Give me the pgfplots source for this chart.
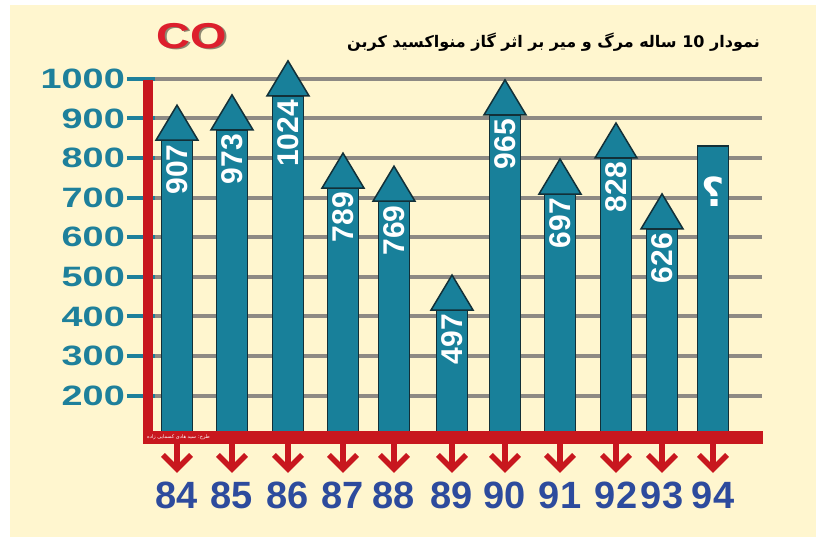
\documentclass[border=0pt]{standalone}
\usepackage{fontspec}
\setmainfont{Liberation Sans}
\newfontfamily\wide[FakeStretch=1.35]{Liberation Sans}
\newfontfamily\widecc[FakeStretch=1.3]{Liberation Sans}
\newfontfamily\arabicfont[Script=Arabic]{DejaVu Sans}
\usepackage{pgfplots}
\pgfplotsset{compat=1.18}
\usepackage{pgfplotstable}
\TeXXeTstate=1

\definecolor{bg}{HTML}{FFF6CF}
\definecolor{barteal}{HTML}{18809A}
\definecolor{baredge}{HTML}{123038}
\definecolor{labteal}{HTML}{1E809B}
\definecolor{gridgray}{HTML}{8E8A84}
\definecolor{axred}{HTML}{C8171E}
\definecolor{cored}{HTML}{DD1F2D}
\definecolor{yearblue}{HTML}{2D4B9D}

\pgfdeclareplotmark{ahead}{%
  \pgfpathmoveto{\pgfqpoint{-21pt}{0pt}}%
  \pgfpathlineto{\pgfqpoint{21pt}{0pt}}%
  \pgfpathlineto{\pgfqpoint{0pt}{35pt}}%
  \pgfpathclose
  \pgfusepathqfillstroke}
\pgfdeclareplotmark{downarrow}{%
  \pgfsetmiterjoin
  \pgfpathmoveto{\pgfqpoint{0pt}{2pt}}%
  \pgfpathlineto{\pgfqpoint{0pt}{-24pt}}%
  \pgfusepathqstroke
  \pgfpathmoveto{\pgfqpoint{-14pt}{-11pt}}%
  \pgfpathlineto{\pgfqpoint{0pt}{-25pt}}%
  \pgfpathlineto{\pgfqpoint{14pt}{-11pt}}%
  \pgfusepathqstroke}

% pos = horizontal position of the year, value = printed number,
% body = top of the arrow shaft as drawn in the picture
\pgfplotstableread{
pos year value body
177 84 907 845
232 85 973 871
288 86 1024 957
343 87 789 724
394 88 769 691
452 89 497 416
505 90 965 909
560 91 697 709
616 92 828 800
662 93 626 621
}\arrowdata
\pgfplotstableread{
pos year body
713 94 830
}\lastbar
\pgfplotstableread{
pos year
177 84
232 85
288 86
343 87
394 88
452 89
505 90
560 91
616 92
662 93
713 94
}\cats

\pgfplotsset{chartbox/.style={
  at={(155pt,93.9pt)}, anchor=south west,
  scale only axis, width=607pt, height=364.7pt,
  xmin=155, xmax=762, ymin=80, ymax=1001}}

\begin{document}
\begin{tikzpicture}
\useasboundingbox (0,0) rectangle (816pt,537pt);
\fill[white] (0,0) rectangle (816pt,537pt);
\fill[bg] (10pt,0) rectangle (816pt,532pt);
\begin{axis}[
  chartbox,
  axis line style={draw=none},
  ytick={200,300,400,500,600,700,800,900,1000},
  yticklabels={200,300,400,500,600,700,800,900,1000},
  xtick={177,232,288,343,394,452,505,560,616,662,713},
  xticklabels={84,85,86,87,88,89,90,91,92,93,94},
  ymajorgrids, grid style={gridgray, line width=4pt},
  tick align=outside, tick pos=left, major tick length=28pt,
  ytick style={labteal, line width=4pt},
  xtick style={draw=none},
  yticklabel style={font=\fontsize{28}{30}\selectfont\wide\bfseries, text=labteal, anchor=east, inner sep=0pt, xshift=-2pt},
  xticklabel style={font=\fontsize{38}{40}\selectfont\bfseries, text=yearblue, anchor=center, yshift=-24pt},
]
\addplot[ybar, bar width=31pt, bar shift=0pt, fill=barteal, draw=baredge, line width=1.5pt]
  table[x=pos, y=body]{\arrowdata};
\addplot[ybar, bar width=31pt, bar shift=0pt, fill=barteal, draw=baredge, line width=1.5pt]
  table[x=pos, y=body]{\lastbar};
\addplot[only marks, mark=ahead, mark options={fill=barteal, draw=baredge, line width=1.5pt}]
  table[x=pos, y=body]{\arrowdata};
\addplot[draw=none, nodes near coords, point meta=explicit symbolic,
  every node near coord/.append style={rotate=90, anchor=east, inner sep=4pt,
    font=\fontsize{30}{30}\selectfont\bfseries, text=white}]
  table[x=pos, y=body, meta=value]{\arrowdata};
\addplot[draw=none, nodes near coords={\arabicfont\bfseries ؟},
  every node near coord/.append style={anchor=center, inner sep=0pt,
    font=\fontsize{40}{40}\selectfont, text=white}]
  coordinates {(713,714)};
\end{axis}
% axis bars
\fill[axred] (143pt,93pt) rectangle (763pt,106pt);
\fill[axred] (143pt,93pt) rectangle (153pt,457pt);
\node[anchor=west, text=white, inner sep=0pt, font=\arabicfont\fontsize{5}{5}\selectfont] at (147pt,99.5pt) {\beginR طرح: سید هادی کسمایی زاده\endR};
% red arrows under the years
\begin{axis}[chartbox, hide axis, clip=false]
\addplot[only marks, mark=downarrow, mark options={draw=axred, line width=5.5pt}]
  table[x=pos, y expr=77.8]{\cats};
\end{axis}
% titles
\node[font=\fontsize{36}{36}\selectfont\widecc\bfseries, text=black, opacity=0.45] at (193.5pt,499.5pt) {CO};
\node[font=\fontsize{36}{36}\selectfont\widecc\bfseries, text=cored] at (192pt,501pt) {CO};
\node[anchor=east, inner sep=0pt, font=\fontsize{16}{16}\selectfont\arabicfont\bfseries] at (760pt,495pt) {\beginR نمودار 10 ساله مرگ و میر بر اثر گاز منواکسید کربن\endR};
\end{tikzpicture}
\end{document}
